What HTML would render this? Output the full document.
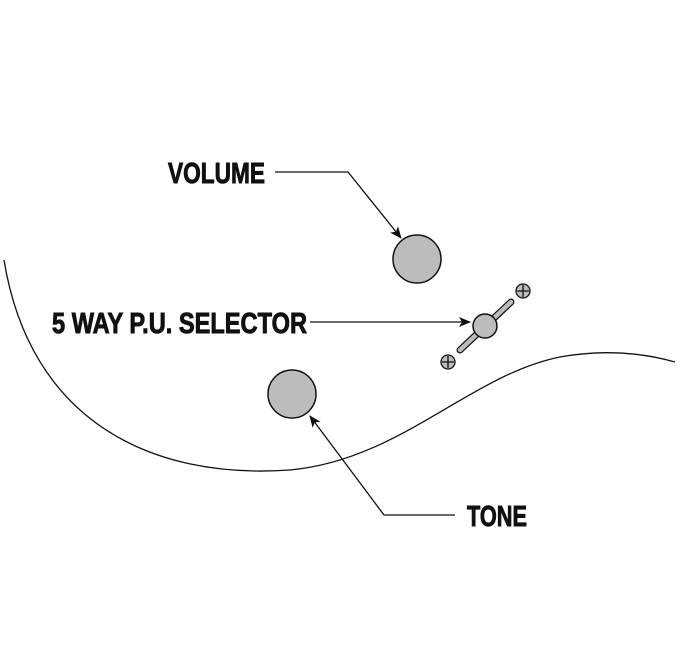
<!DOCTYPE html>
<html><head><meta charset="utf-8"><style>
html,body{margin:0;padding:0;background:#fff;width:685px;height:645px;overflow:hidden}
</style></head><body>
<svg width="685" height="645" viewBox="0 0 685 645" xmlns="http://www.w3.org/2000/svg">
<defs><marker id="a" markerWidth="12" markerHeight="10" refX="11" refY="5" orient="auto" markerUnits="userSpaceOnUse"><path d="M0,0 L12,5 L0,10 L3,5 Z" fill="#111"/></marker></defs>
<path d="M4,260 C 30,420 150,480 290,470 C 400,460 470,375 560,357 C 610,348 650,355 675,362" fill="none" stroke="#111" stroke-width="1.3"/>
<g font-family="Liberation Sans, sans-serif" font-weight="bold" font-size="29" fill="#111" stroke="#111" stroke-width="0.9">
<text x="168" y="183" textLength="97" lengthAdjust="spacingAndGlyphs">VOLUME</text>
<text x="52" y="333" textLength="255" lengthAdjust="spacingAndGlyphs">5 WAY P.U. SELECTOR</text>
<text x="467" y="526" textLength="60" lengthAdjust="spacingAndGlyphs">TONE</text>
</g>
<g fill="none" stroke="#111" stroke-width="1.3">
<path d="M275,172 L348,172 L401,238" marker-end="url(#a)"/>
<path d="M310,322 L470,322" marker-end="url(#a)"/>
<path d="M455,515 L384,515 L310,416" marker-end="url(#a)"/>
</g>
<circle cx="417" cy="259" r="24" fill="#bcbcbf" stroke="#111" stroke-width="1.5"/>
<circle cx="292" cy="394" r="24" fill="#bcbcbf" stroke="#111" stroke-width="1.5"/>
<line x1="460" y1="350" x2="511" y2="302" stroke="#111" stroke-width="7" stroke-linecap="round"/>
<line x1="460" y1="350" x2="511" y2="302" stroke="#bcbcbf" stroke-width="4.5" stroke-linecap="round"/>
<circle cx="485" cy="326" r="12" fill="#bcbcbf" stroke="#111" stroke-width="1.5"/>
<g stroke="#111" stroke-width="1.3">
<circle cx="523" cy="291" r="7" fill="#bcbcbf"/><path d="M517,291 H529 M523,285 V297"/>
<circle cx="448" cy="362" r="7" fill="#bcbcbf"/><path d="M442,362 H454 M448,356 V368"/>
</g>
</svg>
</body></html>
